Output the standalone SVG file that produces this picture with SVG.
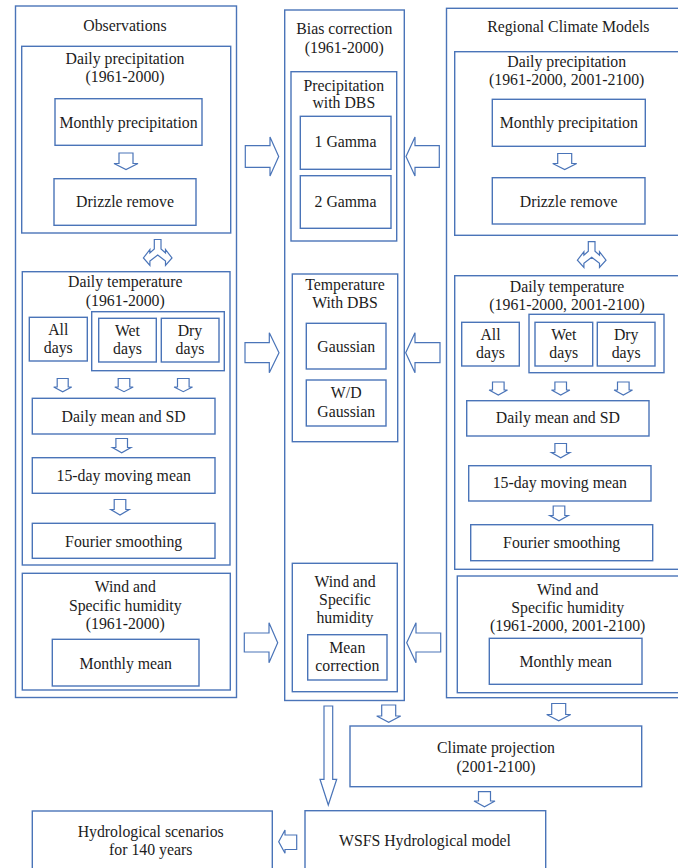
<svg xmlns="http://www.w3.org/2000/svg" width="678" height="868" viewBox="0 0 678 868">
<style>
.b{fill:none;stroke:#4a74b8;stroke-width:1.4}
.a{fill:#fff;stroke:#4a74b8;stroke-width:1.2;stroke-linejoin:miter}
text{font-family:"Liberation Serif","Times New Roman",serif;font-size:15.8px;fill:#1c1c1c;text-anchor:middle}
</style>
<rect width="678" height="868" fill="#fff"/>

<g id="observations">
<rect class="b" x="15.5" y="6" width="221" height="691.5"/>
<text x="125" y="31">Observations</text>
</g>
<g id="obs-daily-precip">
<rect class="b" x="21.7" y="46.3" width="209" height="186.7"/>
<text x="125" y="64">Daily precipitation</text>
<text x="125" y="82">(1961-2000)</text>
</g>
<g id="obs-monthly-precip">
<rect class="b" x="55" y="98.7" width="147" height="46.6"/>
<text x="128.5" y="128">Monthly precipitation</text>
</g>
<g id="obs-drizzle">
<rect class="b" x="54" y="178.7" width="142" height="46.6"/>
<text x="125" y="207">Drizzle remove</text>
</g>
<g id="obs-daily-temp">
<rect class="b" x="22.3" y="271.7" width="207.7" height="293.3"/>
<text x="125.3" y="287.3">Daily temperature</text>
<text x="125.3" y="306">(1961-2000)</text>
</g>
<g id="obs-all-days">
<rect class="b" x="29.3" y="317.3" width="58" height="43.7"/>
<text x="58.3" y="334.5">All</text>
<text x="58.3" y="353">days</text>
</g>
<g id="obs-wetdry-group">
<rect class="b" x="91.7" y="311.7" width="132.6" height="59"/>
</g>
<g id="obs-wet-days">
<rect class="b" x="98.7" y="318.3" width="57.6" height="43.7"/>
<text x="127.5" y="336">Wet</text>
<text x="127.5" y="354">days</text>
</g>
<g id="obs-dry-days">
<rect class="b" x="161.3" y="318.3" width="57.7" height="43.7"/>
<text x="190" y="336">Dry</text>
<text x="190" y="354">days</text>
</g>
<g id="obs-daily-mean">
<rect class="b" x="32.3" y="398.3" width="182.7" height="35.7"/>
<text x="123.7" y="421.7">Daily mean and SD</text>
</g>
<g id="obs-15day">
<rect class="b" x="32.3" y="457.7" width="182.7" height="35.6"/>
<text x="123.7" y="480.7">15-day moving mean</text>
</g>
<g id="obs-fourier">
<rect class="b" x="32.3" y="523.3" width="182.7" height="35"/>
<text x="123.7" y="546.7">Fourier smoothing</text>
</g>
<g id="obs-wind">
<rect class="b" x="22.3" y="573.3" width="208" height="116.7"/>
<text x="125.3" y="591.7">Wind and</text>
<text x="125.3" y="610.7">Specific humidity</text>
<text x="125.3" y="629">(1961-2000)</text>
</g>
<g id="obs-monthly-mean">
<rect class="b" x="52.3" y="639.3" width="146.7" height="46.7"/>
<text x="125.7" y="669.3">Monthly mean</text>
</g>

<g id="bias">
<rect class="b" x="284.7" y="10" width="119.6" height="690.5"/>
<text x="344.3" y="34">Bias correction</text>
<text x="344.3" y="52.7">(1961-2000)</text>
</g>
<g id="bias-precip">
<rect class="b" x="291" y="71.7" width="105.7" height="169.3"/>
<text x="343.8" y="90.7">Precipitation</text>
<text x="343.8" y="108.3">with DBS</text>
</g>
<g id="gamma1">
<rect class="b" x="300.3" y="116.3" width="90.7" height="53"/>
<text x="345.5" y="147">1 Gamma</text>
</g>
<g id="gamma2">
<rect class="b" x="300.3" y="175.7" width="90.7" height="52.6"/>
<text x="345.5" y="206.7">2 Gamma</text>
</g>
<g id="bias-temp">
<rect class="b" x="292.3" y="274" width="105.4" height="167.7"/>
<text x="345" y="290">Temperature</text>
<text x="345" y="308.3">With DBS</text>
</g>
<g id="gaussian">
<rect class="b" x="306.3" y="323.3" width="79.7" height="45.7"/>
<text x="346.2" y="351.7">Gaussian</text>
</g>
<g id="wd-gaussian">
<rect class="b" x="306.3" y="380" width="79.7" height="46"/>
<text x="346.2" y="398.3">W/D</text>
<text x="346.2" y="416.7">Gaussian</text>
</g>
<g id="bias-wind">
<rect class="b" x="292.3" y="563.3" width="105" height="128.4"/>
<text x="345" y="587.3">Wind and</text>
<text x="345" y="605.3">Specific</text>
<text x="345" y="623.3">humidity</text>
</g>
<g id="mean-correction">
<rect class="b" x="307.7" y="634.7" width="79.3" height="45.3"/>
<text x="347.3" y="653.3">Mean</text>
<text x="347.3" y="670.7">correction</text>
</g>

<g id="rcm">
<rect class="b" x="446.5" y="8.3" width="245" height="689.4"/>
<text x="568.3" y="31.7">Regional Climate Models</text>
</g>
<g id="rcm-daily-precip">
<rect class="b" x="454.7" y="51.7" width="235" height="183.6"/>
<text x="566.7" y="66.7">Daily precipitation</text>
<text x="566.7" y="85">(1961-2000, 2001-2100)</text>
</g>
<g id="rcm-monthly-precip">
<rect class="b" x="492.3" y="99.3" width="153" height="47"/>
<text x="568.8" y="128.3">Monthly precipitation</text>
</g>
<g id="rcm-drizzle">
<rect class="b" x="492.3" y="177.7" width="152.7" height="46.3"/>
<text x="568.7" y="206.7">Drizzle remove</text>
</g>
<g id="rcm-daily-temp">
<rect class="b" x="454.7" y="275.7" width="235" height="293.6"/>
<text x="567" y="292.3">Daily temperature</text>
<text x="567" y="310">(1961-2000, 2001-2100)</text>
</g>
<g id="rcm-all-days">
<rect class="b" x="461.7" y="322.3" width="57.6" height="43.7"/>
<text x="490.5" y="340">All</text>
<text x="490.5" y="358.3">days</text>
</g>
<g id="rcm-wetdry-group">
<rect class="b" x="529" y="314.3" width="135" height="58.4"/>
</g>
<g id="rcm-wet-days">
<rect class="b" x="535" y="322.3" width="57.7" height="43.7"/>
<text x="563.8" y="340">Wet</text>
<text x="563.8" y="358.3">days</text>
</g>
<g id="rcm-dry-days">
<rect class="b" x="597.3" y="322.3" width="57.7" height="43.7"/>
<text x="626.2" y="340">Dry</text>
<text x="626.2" y="358.3">days</text>
</g>
<g id="rcm-daily-mean">
<rect class="b" x="466.7" y="400.7" width="182.3" height="35.3"/>
<text x="557.8" y="423.3">Daily mean and SD</text>
</g>
<g id="rcm-15day">
<rect class="b" x="468.7" y="465.7" width="182.3" height="35.3"/>
<text x="559.8" y="488.3">15-day moving mean</text>
</g>
<g id="rcm-fourier">
<rect class="b" x="470.7" y="524.7" width="182" height="36"/>
<text x="561.7" y="548.3">Fourier smoothing</text>
</g>
<g id="rcm-wind">
<rect class="b" x="457.3" y="576" width="232" height="116.7"/>
<text x="567.7" y="595">Wind and</text>
<text x="567.7" y="613.3">Specific humidity</text>
<text x="567.7" y="631">(1961-2000, 2001-2100)</text>
</g>
<g id="rcm-monthly-mean">
<rect class="b" x="489.3" y="638.3" width="152.7" height="46"/>
<text x="565.7" y="666.7">Monthly mean</text>
</g>

<g id="climate-projection">
<rect class="b" x="350" y="726" width="291.7" height="60.7"/>
<text x="496" y="753.3">Climate projection</text>
<text x="496" y="771.7">(2001-2100)</text>
</g>
<g id="wsfs">
<rect class="b" x="305" y="810.7" width="240.7" height="80"/>
<text x="425" y="846">WSFS Hydrological model</text>
</g>
<g id="hydro-scenarios">
<rect class="b" x="32.3" y="811" width="240" height="80"/>
<text x="150.7" y="836.7">Hydrological scenarios</text>
<text x="150.7" y="855">for 140 years</text>
</g>

<g id="connectors">
<path class="a" d="M119,153 H133 V163.5 H138 L126,169.5 L114,163.5 H119 Z"/>
<path class="a" d="M557.7,153.5 H571.7 V163.5 H576.7 L564.7,169.5 L552.7,163.5 H557.7 Z"/>
<path class="a" d="M154.3,239.5 H161 V249 L165.5,253 V249.5 L172,258 L165.5,265.3 V261 L157.7,255 L149.9,261 V265.3 L143.4,258 L149.9,249.5 V253 L154.3,249 Z"/>
<path class="a" d="M588.3,241.7 H595 V251.2 L599.5,255.2 V251.7 L606,260.2 L599.5,267.5 V263.2 L591.7,257.2 L583.9,263.2 V267.5 L577.4,260.2 L583.9,251.7 V255.2 L588.3,251.2 Z"/>
<path class="a" d="M57.2,378.5 H68.2 V387 H71.7 L62.7,391.7 L53.7,387 H57.2 Z"/>
<path class="a" d="M118.2,378.5 H129.8 V387 H133.2 L124,391.7 L114.8,387 H118.2 Z"/>
<path class="a" d="M177.5,378.5 H189.1 V387 H192.5 L183.3,391.7 L174.1,387 H177.5 Z"/>
<path class="a" d="M115.9,438.5 H127.5 V447.5 H130.9 L121.7,452.7 L112.5,447.5 H115.9 Z"/>
<path class="a" d="M114.2,499.5 H125.8 V509.5 H129.2 L120,515 L110.8,509.5 H114.2 Z"/>
<path class="a" d="M492.5,382 H504.1 V390 H507.5 L498.3,395 L489.1,390 H492.5 Z"/>
<path class="a" d="M554.9,382 H566.5 V390 H569.9 L560.7,395 L551.5,390 H554.9 Z"/>
<path class="a" d="M617.5,382 H629.1 V390 H632.5 L623.3,395 L614.1,390 H617.5 Z"/>
<path class="a" d="M554.9,443.5 H566.5 V452.5 H569.9 L560.7,457.7 L551.5,452.5 H554.9 Z"/>
<path class="a" d="M553.2,506 H564.8 V515.5 H568.2 L559,520.7 L549.8,515.5 H553.2 Z"/>
<path class="a" d="M245.3,145.7 H270 V137 L278.7,156.5 L270,176 V167.3 H245.3 Z"/>
<path class="a" d="M439.3,145.7 H415 V137 L406,156.5 L415,176 V167.3 H439.3 Z"/>
<path class="a" d="M245,342.7 H269.3 V332.7 L279,352.7 L269.3,372.7 V362.7 H245 Z"/>
<path class="a" d="M440,342.7 H415 V332.7 L405.7,352.7 L415,372.7 V362.7 H440 Z"/>
<path class="a" d="M244.3,633 H269 V622.7 L277.7,642.7 L269,662.7 V652 H244.3 Z"/>
<path class="a" d="M440.7,633 H416 V622.7 L406.7,642.7 L416,662.7 V652 H440.7 Z"/>
<path class="a" d="M381.7,705 H395.7 V716 H400.7 L388.7,722.3 L376.7,716 H381.7 Z"/>
<path class="a" d="M551.7,703.5 H565.7 V714.5 H570.7 L558.7,720.7 L546.7,714.5 H551.7 Z"/>
<path class="a" d="M478.5,791.7 H490.5 V801 H495 L484.5,806.7 L474,801 H478.5 Z"/>
<path class="a" d="M324,706 H332.7 V779.3 H336.7 L328.3,805 L320,779.3 H324 Z"/>
<path class="a" d="M296.7,835 V849.5 H285 V853.3 L278.7,841.7 L285,830 V835 Z"/>
</g>
</svg>
